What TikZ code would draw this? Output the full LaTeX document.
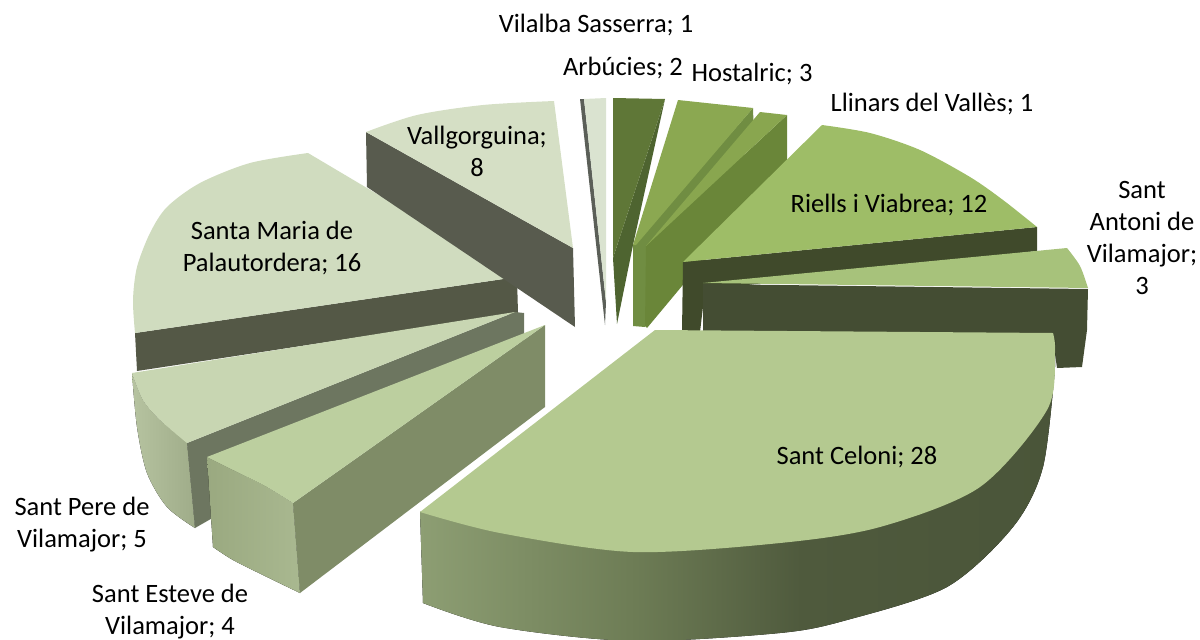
\documentclass[tikz,border=0pt]{standalone}
\usepackage{fontspec}
\setmainfont{Carlito}
\definecolor{vilTop}{HTML}{DAE3D0}
\definecolor{vilDark}{HTML}{5B5F58}
\definecolor{valTop}{HTML}{D5DFC5}
\definecolor{valDark}{HTML}{585B4E}
\definecolor{smTop}{HTML}{D0DCBF}
\definecolor{smDark}{HTML}{545846}
\definecolor{spTop}{HTML}{C8D6B2}
\definecolor{spStrip}{HTML}{6D7660}
\definecolor{spL}{HTML}{B6C3A0}
\definecolor{spR}{HTML}{9FAC89}
\definecolor{seTop}{HTML}{BCCF9F}
\definecolor{seStart}{HTML}{7F8C67}
\definecolor{seL}{HTML}{9AA980}
\definecolor{seR}{HTML}{A9B890}
\definecolor{scTop}{HTML}{B4C990}
\definecolor{scA}{HTML}{8D9E73}
\definecolor{scB}{HTML}{6D7C55}
\definecolor{scC}{HTML}{4F5A3D}
\definecolor{scD}{HTML}{4A5539}
\definecolor{saTop}{HTML}{A7C27B}
\definecolor{saDark}{HTML}{444D33}
\definecolor{riTop}{HTML}{9EBD67}
\definecolor{riDark}{HTML}{404A2B}
\definecolor{llTop}{HTML}{89A64F}
\definecolor{llEnd}{HTML}{6A8639}
\definecolor{hoTop}{HTML}{8BA851}
\definecolor{hoEnd}{HTML}{708D42}
\definecolor{arTop}{HTML}{5F7737}
\definecolor{arDark}{HTML}{4E6430}
\pgfdeclarehorizontalshading{scside}{100bp}{color(0bp)=(scA); color(25bp)=(scA); color(42bp)=(scB); color(55bp)=(scC); color(75bp)=(scD); color(100bp)=(scD)}
\tikzset{lab/.style={font=\fontsize{26.5}{32}\selectfont, align=center, inner sep=0pt, text=black}}
\begin{document}
\begin{tikzpicture}[x=1pt,y=-1pt]
\useasboundingbox (0,0) rectangle (1200,640);
\clip (0,0) rectangle (1200,640);
% Vilalba Sasserra
\fill[vilDark] (580,99) -- (584,99) -- (606,302) -- (605,325) -- cycle;
\fill[vilTop] (584,99) -- (606,98) -- (606,302) -- cycle;
% Arbucies
\fill[arDark] (665,99) -- (633,245) -- (617,324) -- (613,258) -- cycle;
\fill[arTop] (613,98) -- (665,99) -- (613,258) -- cycle;
% Hostalric
\fill[hoEnd] (753,108) -- (754,138) -- (645,327) -- (633,326) -- (633,245) -- cycle;
\fill[hoTop] (678,100) -- (753,108) -- (636,245) -- (633,245) -- cycle;
% Llinars
\fill[llEnd] (787,115) -- (787,160) -- (647,328) -- (645,326) -- (646,246) -- cycle;
\fill[llTop] (760,112) -- (787,115) -- (646,246) -- cycle;
% Santa Maria
\fill[smDark] (135,333) -- (517,277) -- (518,313) -- (137,371) -- cycle;
\fill[smTop] plot[smooth] coordinates {(308,153) (250,163) (200,183) (167,207) (150,233) (137,267) (133,300) (135,333)} -- (517,277) -- cycle;
% Vallgorguina
\fill[valDark] (366,132) -- (573,248) -- (575,327) -- (367,187) -- cycle;
\fill[valTop] plot[smooth] coordinates {(366,132) (417,115) (483,105) (554,101)} -- (573,248) -- cycle;
% Riells
\fill[riDark] (683,262) -- (1037,227) -- (1037,251) -- (705,290) -- (700,332) -- (682,332) -- cycle;
\fill[riTop] plot[smooth] coordinates {(822,125) (870,133) (920,150) (970,177) (1003,200) (1037,227)} -- (683,262) -- cycle;
% Sant Antoni
\fill[saDark] (703,284) -- (1088,289) -- (1087,330) -- (1082,367) -- (1057,368) -- (1053,340) -- (703,334) -- cycle;
\fill[saTop] (703,283) -- plot[smooth] coordinates {(1067,248) (1080,266) (1088,288)} -- cycle;
% Sant Pere
\fill[left color=spL, right color=spR] plot[smooth] coordinates {(132,373) (143,400) (160,420) (187,442)} -- (195,528) -- plot[smooth] coordinates {(195,528) (167,507) (147,473) (137,427) (132,373)} -- cycle;
\fill[spStrip] (187,443) -- (515,312) -- (524,313) -- (524,340) -- (195,528) -- cycle;
\fill[spTop] (132,373) -- (515,312) -- (187,443) -- plot[smooth] coordinates {(187,443) (160,420) (143,400) (132,373)} -- cycle;
% Sant Esteve
\fill[left color=seL, right color=seR] plot[smooth] coordinates {(207,457) (233,470) (267,487) (293,503)} -- (300,593) -- plot[smooth] coordinates {(300,593) (267,577) (233,560) (213,547)} -- cycle;
\fill[seStart] (293,503) -- (545,325) -- (545,407) -- (300,593) -- cycle;
\fill[seTop] (207,457) -- (545,325) -- (293,503) -- plot[smooth] coordinates {(293,503) (267,487) (233,470) (207,457)} -- cycle;
% Sant Celoni
\fill[shading=scside] (420,512) -- plot[smooth] coordinates {(423,603) (500,627) (633,641) (780,633) (847,620) (947,587) (1013,527) (1043,467) (1055,367)} -- (1055,340) -- cycle;
\fill[scTop] (655,330) -- (1053,333) -- plot[smooth] coordinates {(1053,333) (1055,353) (1047,410) (980,487) (880,527) (780,543) (633,552) (500,533) (420,512)} -- cycle;
% labels
\node[lab] (lVil) at (596,25) {Vilalba Sasserra; 1};
\node[lab] (lArb) at (623,68) {Arbúcies; 2};
\node[lab] (lHos) at (752,74) {Hostalric; 3};
\node[lab] (lLli) at (932,104) {Llinars del Vallès; 1};
\node[lab] (lRie) at (889,205) {Riells i Viabrea; 12};
\node[lab] (lAnt) at (1142,238) {Sant\\Antoni de\\Vilamajor;\\3};
\node[lab] (lCel) at (857,457) {Sant Celoni; 28};
\node[lab] (lEst) at (170,612) {Sant Esteve de\\Vilamajor; 4};
\node[lab] (lPer) at (82,525) {Sant Pere de\\Vilamajor; 5};
\node[lab] (lMar) at (272,248) {Santa Maria de\\Palautordera; 16};
\node[lab] (lVal) at (477,151) {Vallgorguina;\\8};
\end{tikzpicture}
\end{document}
